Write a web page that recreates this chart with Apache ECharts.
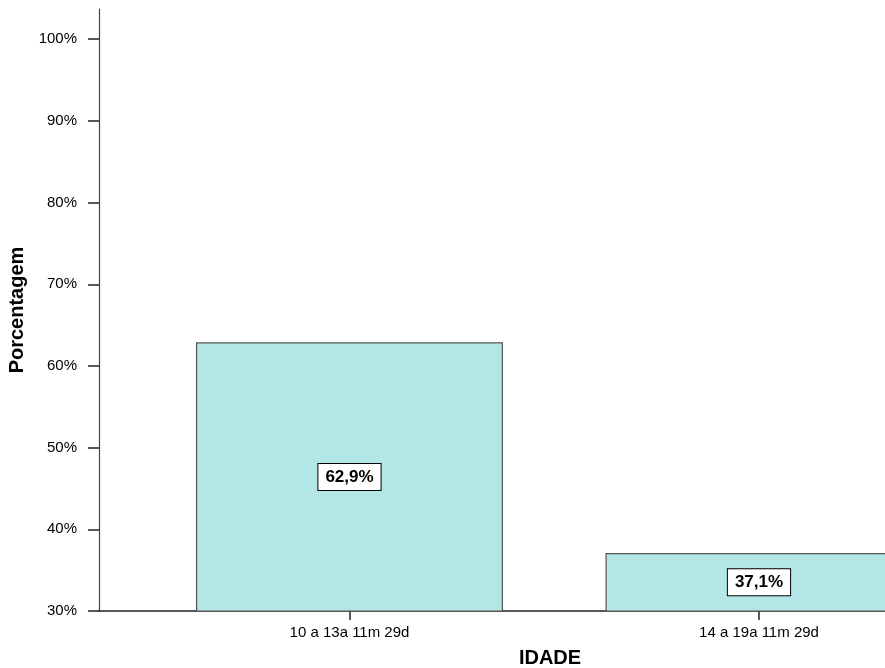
<!DOCTYPE html>
<html>
<head>
<meta charset="utf-8">
<script src="https://cdn.jsdelivr.net/npm/echarts@6/dist/echarts.min.js"></script>
<style>
  html, body { margin: 0; padding: 0; background: #fff; }
  #chart { width: 885px; height: 668px; }
</style>
</head>
<body>
<div id="chart"></div>
<script>
// Age groups and their share of the sample (%)
const categories = ['10 a 13a 11m 29d', '14 a 19a 11m 29d'];
const percentages = [62.9, 37.1];
const yTicks = [30, 40, 50, 60, 70, 80, 90, 100];

const chart = echarts.init(document.getElementById('chart'));
const font = 'Liberation Sans, Arial, sans-serif';

chart.setOption({
  backgroundColor: '#ffffff',
  animation: false,
  grid: { left: 99, top: 9, right: 0, bottom: 57, containLabel: false, outerBoundsMode: 'none' },
  xAxis: {
    type: 'value',
    min: -0.6117,
    max: 1.3077,
    splitLine: { show: false },
    axisLine: { show: true, onZero: false, lineStyle: { color: '#222', width: 1.5 } },
    axisTick: { show: true, length: 9, customValues: [0, 1], lineStyle: { color: '#222', width: 1.5 } },
    axisLabel: {
      customValues: [0, 1],
      formatter: v => categories[Math.round(v)] || '',
      color: '#000', fontFamily: font, fontSize: 15, margin: 14
    },
    name: 'IDADE',
    nameLocation: 'middle',
    nameGap: 37,
    nameTextStyle: { color: '#000', fontFamily: font, fontSize: 20, fontWeight: 'bold', padding: [0, 0, 0, 116] }
  },
  yAxis: {
    type: 'value',
    min: 30,
    max: 103.7,
    interval: 10,
    splitLine: { show: false },
    axisLine: { show: true, onZero: false, lineStyle: { color: '#444', width: 1.2 } },
    axisTick: { show: true, length: 11, customValues: yTicks, lineStyle: { color: '#222', width: 1.5 } },
    axisLabel: {
      customValues: yTicks,
      formatter: '{value}%',
      color: '#000', fontFamily: font, fontSize: 15, margin: 22
    },
    name: 'Porcentagem',
    nameLocation: 'middle',
    nameGap: 67,
    nameTextStyle: { color: '#000', fontFamily: font, fontSize: 20, fontWeight: 'bold' }
  },
  series: [{
    type: 'bar',
    data: percentages.map((v, i) => [i, v]),
    barWidth: 307,
    clip: true,
    itemStyle: { color: '#b3e6e6', borderColor: '#555', borderWidth: 1.2 },
    label: {
      show: true,
      position: 'inside',
      formatter: p => p.value[1].toFixed(1).replace('.', ',') + '%',
      color: '#000',
      fontFamily: font,
      fontSize: 17,
      fontWeight: 'bold',
      backgroundColor: '#fff',
      borderColor: '#000',
      borderWidth: 1,
      padding: [5, 7, 4, 7]
    }
  }]
});
</script>
</body>
</html>
